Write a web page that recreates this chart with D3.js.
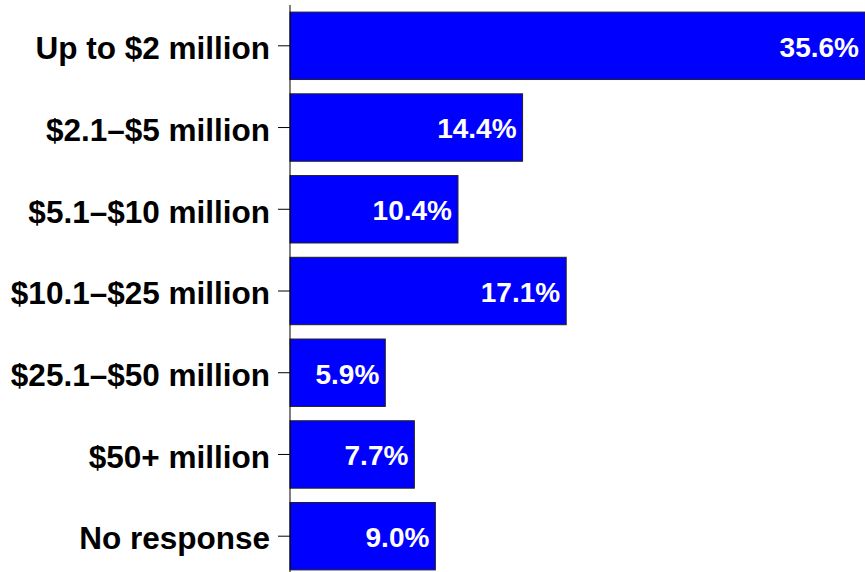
<!DOCTYPE html>
<html>
<head>
<meta charset="utf-8">
<script src="https://cdn.jsdelivr.net/npm/d3@7"></script>
<style>
  html, body { margin: 0; padding: 0; background: #fff; }
  svg { display: block; }
</style>
</head>
<body>
<svg id="chart" width="865" height="572"></svg>
<script>
// Revenue bands and share of respondents (%)
const categories = [
  "Up to $2 million",
  "$2.1–$5 million",
  "$5.1–$10 million",
  "$10.1–$25 million",
  "$25.1–$50 million",
  "$50+ million",
  "No response"
];
const values = [35.6, 14.4, 10.4, 17.1, 5.9, 7.7, 9.0];

const width = 865, height = 572;
const margin = { top: 5, right: 0, bottom: 0, left: 290 };

const svg = d3.select("#chart");
const font = "'Liberation Sans', Arial, Helvetica, sans-serif";

const x = d3.scaleLinear()
  .domain([0, 35.6])
  .range([margin.left, width - margin.right]);

const y = d3.scaleBand()
  .domain(categories)
  .range([margin.top + 3, height + 2])
  .paddingInner(0.175)
  .paddingOuter(0.05);

const data = categories.map((c, i) => ({ cat: c, val: values[i] }));

// bars
svg.append("g")
  .selectAll("rect")
  .data(data)
  .join("rect")
  .attr("x", x(0))
  .attr("y", d => y(d.cat))
  .attr("width", d => x(d.val) - x(0))
  .attr("height", y.bandwidth())
  .attr("fill", "#0000ff")
  .attr("stroke", "#222")
  .attr("stroke-width", 1);

// value labels inside bar ends
svg.append("g")
  .selectAll("text")
  .data(data)
  .join("text")
  .attr("x", d => x(d.val) - 6)
  .attr("y", d => y(d.cat) + y.bandwidth() / 2)
  .attr("dy", "0.39em")
  .attr("text-anchor", "end")
  .attr("fill", "#fff")
  .style("font-family", font)
  .style("font-weight", "bold")
  .style("font-size", "28px")
  .text(d => d.val.toFixed(1) + "%");

// category axis
const axis = svg.append("g")
  .attr("transform", `translate(${margin.left},0)`)
  .call(d3.axisLeft(y).tickSize(12).tickPadding(8).tickSizeOuter(0));

axis.select(".domain").remove();
axis.append("line")
  .attr("x1", 0).attr("x2", 0)
  .attr("y1", margin.top).attr("y2", height)
  .attr("stroke", "#000");

axis.selectAll(".tick line").attr("stroke", "#000");
axis.selectAll(".tick text")
  .attr("dy", "0.42em")
  .attr("fill", "#000")
  .style("font-family", font)
  .style("font-weight", "bold")
  .style("font-size", "31.5px");
</script>
</body>
</html>
